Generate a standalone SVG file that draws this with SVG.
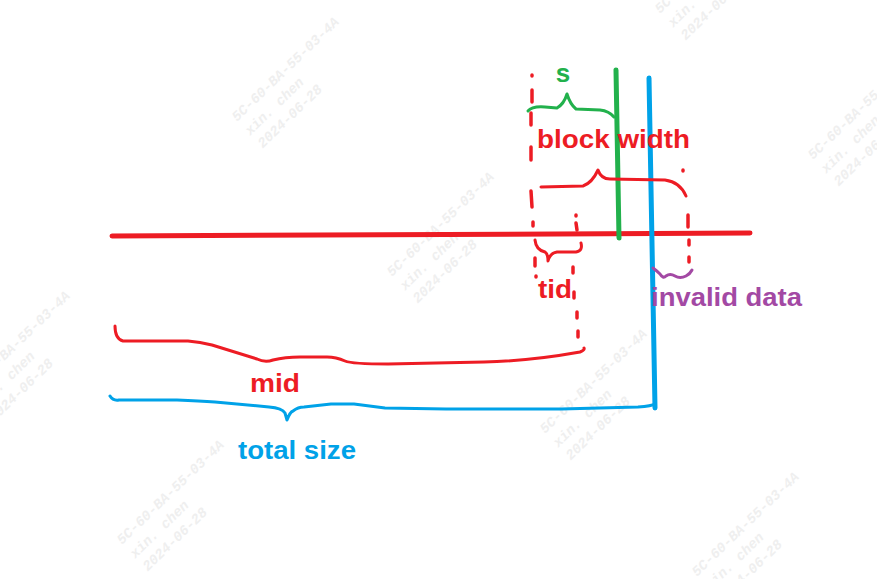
<svg xmlns="http://www.w3.org/2000/svg" xmlns:xlink="http://www.w3.org/1999/xlink" width="877" height="579" viewBox="0 0 877 579">
<style>
.wm{font-family:"Liberation Mono",monospace;font-weight:bold;font-style:italic;font-size:14px;fill:#efefef}
.ln{fill:none;stroke-linecap:round;stroke-linejoin:round}
.thick{stroke-width:5}
.br{stroke-width:3}
.dot{stroke-width:3.5}
.red{stroke:#ed1c24}
.grn{stroke:#22b14c}
.blu{stroke:#00a2e8}
.pur{stroke:#a349a4}
.lbl{font-family:"Liberation Sans",Arial,sans-serif;font-weight:bold;font-size:26px}
</style>
<defs>
<g id="wm" transform="rotate(-44)">
<text class="wm" x="0" y="0">5C-60-BA-55-03-4A</text>
<text class="wm" x="0" y="19">xin. chen</text>
<text class="wm" x="0" y="37">2024-06-28</text>
</g>
</defs>
<rect width="877" height="579" fill="#ffffff"/>
<g id="watermarks">
<use xlink:href="#wm" transform="translate(237,122)"/>
<use xlink:href="#wm" transform="translate(392,277)"/>
<use xlink:href="#wm" transform="translate(545,434)"/>
<use xlink:href="#wm" transform="translate(697,577)"/>
<use xlink:href="#wm" transform="translate(660,14)"/>
<use xlink:href="#wm" transform="translate(813,160)"/>
<use xlink:href="#wm" transform="translate(-32,396)"/>
<use xlink:href="#wm" transform="translate(122,545)"/>
</g>
<g id="connectors">
<path id="axis" class="ln thick red" d="M112,236 L750,233"/>
<path id="green-line" class="ln thick grn" d="M616,70 L619,238"/>
<path id="blue-line" class="ln thick blu" d="M649,78 L655,408"/>
<g id="left-dots" class="ln dot red">
<path d="M532,75 L532,76"/>
<path d="M532,90 L532,102"/>
<path d="M531,113 L531,125"/>
<path d="M531,147 L531,160"/>
<path d="M531,191 L532,207"/>
<path d="M533,222 L533,226"/>
<path d="M535,258 L535,266"/>
<path d="M536,276 L536,277"/>
</g>
<g id="tid-dots" class="ln dot red">
<path d="M576,215 L576,216"/>
<path d="M576,223 L577,230"/>
<path d="M573,267 L573,273"/>
<path d="M574,292 L574,298"/>
<path d="M577,312 L577,318"/>
<path d="M578,331 L578,337"/>
</g>
<g id="right-dots" class="ln dot red">
<path d="M683,170 L683,171"/>
<path d="M688,215 L688,227"/>
<path d="M689,240 L689,245"/>
<path d="M689,257 L689,262"/>
</g>
</g>
<g id="brace-s">
<path class="ln br grn" d="M528,111 Q532,106 545,107 L557,108 Q564,104 567,94 Q570,104 576,109 L600,110 Q609,111 614,117"/>
</g>
<g id="brace-block-width">
<path class="ln br red" d="M541,187 L583,186 Q592,183 598,170 Q601,179 610,179 L665,180 Q680,182 686,196"/>
</g>
<g id="brace-tid">
<path class="ln br red" d="M535,240 Q536,250 545,252 Q548,254 548,261 Q550,253 557,252 L576,252 Q583,251 581,243"/>
</g>
<g id="brace-invalid">
<path class="ln br pur" d="M653,268 Q657,271 660,274 Q663,279 666,276 Q670,273 675,276 Q680,279 686,276 Q690,274 692,270"/>
</g>
<g id="brace-mid">
<path class="ln br red" d="M115,326 Q115,339 123,341 L188,341 Q200,342 212,345 L257,359 Q265,363 273,360 Q285,357 300,357 L327,357 Q336,357 345,361 Q352,364 388,364 L484,362 Q530,361 580,352 Q585,350 584,348"/>
</g>
<g id="brace-total">
<path class="ln br blu" d="M110,396 Q113,401 119,400 L177,400 Q200,401 215,402 L269,407 Q282,408 285,413 L287,420 Q290,412 293,411 Q298,407 304,407 L331,404 L354,404 Q370,406 385,408 L446,409 L561,409 L638,407 Q652,406 655,404"/>
</g>
<g id="label-s"><text class="lbl" x="563" y="82" text-anchor="middle" fill="#22b14c" font-size="23">s</text></g>
<g id="label-block-width"><text class="lbl" x="537" y="148" fill="#ed1c24" textLength="153" lengthAdjust="spacingAndGlyphs">block width</text></g>
<g id="label-tid"><text class="lbl" x="538" y="298" fill="#ed1c24" textLength="34" lengthAdjust="spacingAndGlyphs">tid</text></g>
<g id="label-invalid"><text class="lbl" x="651" y="306" fill="#a349a4" textLength="151" lengthAdjust="spacingAndGlyphs">invalid data</text></g>
<g id="label-mid"><text class="lbl" x="250" y="392" fill="#ed1c24" textLength="50" lengthAdjust="spacingAndGlyphs">mid</text></g>
<g id="label-total"><text class="lbl" x="238" y="459" fill="#00a2e8" textLength="118" lengthAdjust="spacingAndGlyphs">total size</text></g>
</svg>
